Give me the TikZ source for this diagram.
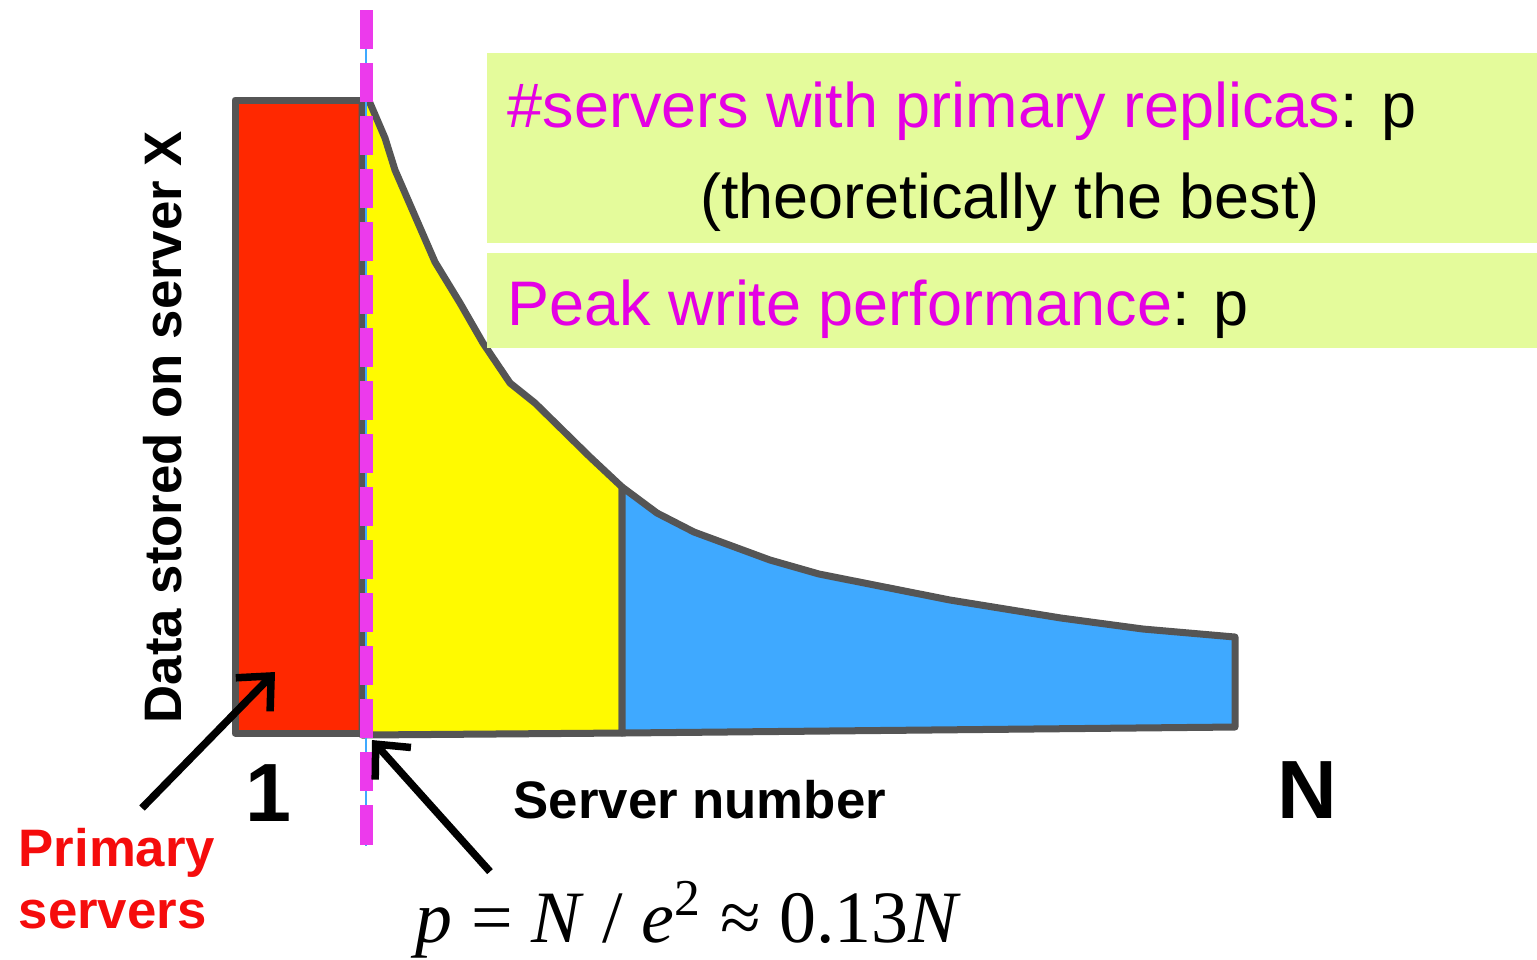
\documentclass[tikz,border=0pt]{standalone}
\usepackage{fontspec}
\setmainfont{Liberation Sans}
\newfontfamily\serifmath{Liberation Serif}
\usepackage{xcolor}
\usepackage{tikz}
\usetikzlibrary{arrows.meta, positioning}

\definecolor{barred}{RGB}{255,40,0}
\definecolor{baryellow}{RGB}{255,250,0}
\definecolor{barblue}{RGB}{63,169,255}
\definecolor{edgegray}{RGB}{85,85,85}
\definecolor{cutmagenta}{RGB}{236,58,236}
\definecolor{notemagenta}{RGB}{228,0,228}
\definecolor{notegreen}{RGB}{228,251,155}
\definecolor{labelred}{RGB}{245,12,12}

\tikzstyle{bar} = [draw=edgegray, line width=0.07cm, line join=round]
\tikzstyle{note} = [fill=notegreen, draw=none]
\tikzstyle{notetext} = [inner sep=0pt, anchor=base west, font=\fontsize{17.9}{21.6}\selectfont]
\tikzstyle{axislabel} = [inner sep=0pt, font=\bfseries\fontsize{15}{18}\selectfont]
\tikzstyle{endlabel} = [inner sep=0pt, anchor=base west, font=\bfseries\fontsize{23.5}{28}\selectfont]
\tikzstyle{pointer} = [-{Straight Barb[length=0.26cm,width=0.48cm]}, line width=0.075cm, black]
\tikzstyle{cutline} = [cutmagenta, line width=0.13cm, dash pattern=on 0.39cm off 0.14cm]

\begin{document}
\begin{tikzpicture}[x=0.01cm, y=-0.01cm]
    \useasboundingbox (0,0) rectangle (1537,959);
    % bars: primary, secondary and the long tail
    \filldraw[bar, fill=barred] (235,100) rectangle (362,733);
    \filldraw[bar, fill=baryellow] (362,100) -- (370,103) -- (385,138) -- (395,170)
        -- (435,262) -- (460,303) -- (483,343) -- (510,383) -- (535,403)
        -- (590,457) -- (622,487) -- (622,733) -- (362,735) -- cycle;
    \filldraw[bar, fill=barblue] (622,487) -- (657,513) -- (694,532) -- (770,560)
        -- (819,574) -- (950,600) -- (1061,618) -- (1143,629) -- (1235,637)
        -- (1235,727) -- (622,733) -- cycle;
    % cut at p
    \draw[barblue, line width=0.4pt] (366,10) -- (366,846);
    \draw[cutline] (366,10) -- (366,846);

    \fill[note] (487,53) rectangle (1537,243);
    \fill[note] (487,253) rectangle (1537,348);
    \node[notetext] (replicas) at (507,127) {\textcolor{notemagenta}{\#servers with primary replicas}: p};
    \node[notetext, anchor=base] (best) at (1010,218) {(theoretically the best)};
    \node[notetext] (peak) at (507,325) {\textcolor{notemagenta}{Peak write performance}: p};

    \node[axislabel, rotate=90, anchor=base] (ylabel) at (181,427) {Data stored on server X};
    \node[axislabel, anchor=base west] (xlabel) at (513,818) {Server number};
    \node[endlabel] (first) at (245,821) {1};
    \node[endlabel] (last) at (1277,818) {N};
    \node[axislabel, text=labelred, align=left, anchor=north west,
        font=\bfseries\fontsize{15}{17.4}\selectfont] (primary) at (18,828) {Primary\\servers};
    \node[inner sep=0pt, anchor=base west, font=\serifmath\fontsize{21}{25}\selectfont] (formula)
        at (415,942) {\textit{p} = \textit{N} / \textit{e}\textsuperscript{2} ≈ 0.13\textit{N}};

    \coordinate (redpoint) at (275,672);
    \coordinate (cutfoot) at (372,740);
    \draw[pointer] ([shift={(124,-20)}]primary.north west) -- (redpoint);
    \draw[pointer] ([shift={(75,-9)}]formula.north west) -- (cutfoot);
\end{tikzpicture}
\end{document}
